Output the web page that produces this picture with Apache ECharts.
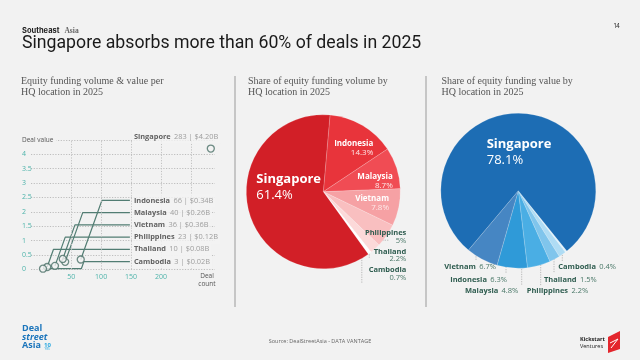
<!DOCTYPE html>
<html><head><meta charset="utf-8">
<script src="https://cdn.jsdelivr.net/npm/echarts@6/dist/echarts.min.js"></script>
<style>html,body{margin:0;padding:0;background:#f2f2f2;}#c{width:640px;height:360px;}</style>
</head><body><div id="c"></div>
<script>
// ---------- data ----------
const countries   = ['Singapore','Indonesia','Malaysia','Vietnam','Philippines','Thailand','Cambodia'];
const dealCounts  = [283, 66, 40, 36, 23, 10, 3];
const dealValues  = [4.20, 0.34, 0.26, 0.36, 0.12, 0.08, 0.02];
const volumeShare = [61.4, 14.3, 8.7, 7.8, 5, 2.2, 0.7];
const valueShare  = [78.1, 6.3, 4.8, 6.7, 2.2, 1.5, 0.4];
const xTickLabels = [50, 100, 150, 200];
const xGridLines  = [50, 100, 150, 200, 250];
const yTickLabels = [0, 0.5, 1, 1.5, 2, 2.5, 3, 3.5, 4];
const volumeOrder = ['Indonesia','Malaysia','Vietnam','Philippines','Thailand','Cambodia','Singapore'];
const valueOrder  = ['Cambodia','Thailand','Philippines','Malaysia','Indonesia','Vietnam','Singapore'];

// ---------- styles ----------
const BG = '#f2f2f2';
const SANS = "'Open Sans', sans-serif";
const SERIF = "'Liberation Serif', serif";
const TEAL = '#4db3aa';
const GREEN = '#2e5c4f';
const volColors = {Singapore:'#d21f27',Indonesia:'#e8343b',Malaysia:'#f04c54',Vietnam:'#f6a1a4',Philippines:'#f9bfc0',Thailand:'#fcd9d9',Cambodia:'#ffffff'};
const valColors = {Singapore:'#1d6db4',Vietnam:'#4686c3',Indonesia:'#2f9ad8',Malaysia:'#4aaee4',Philippines:'#80c5ec',Thailand:'#afdcf4',Cambodia:'#e2f2fb'};

const chart = echarts.init(document.getElementById('c'));

// ---------- left chart: leader lines & labels ----------
const LABEL_X = 148;
const small = countries.map((c, i) => i).filter(i => i > 0).sort((a, b) => dealCounts[a] - dealCounts[b]);
const levels = {};
small.forEach((idx, r) => { levels[idx] = 0.27 + r * 0.425; });
levels[0] = 4.61;
const leaderSeries = small.map((idx, r) => {
  const lvl = levels[idx], x0 = dealCounts[idx], y0 = dealValues[idx];
  const pts = [[x0, y0]];
  let bx = x0;
  if (r === 0) { bx = dealCounts[small[small.length - 1]] + 1; pts.push([bx, y0]); }
  pts.push([bx + (lvl - y0) * 17.15, lvl]);
  pts.push([LABEL_X, lvl]);
  return { type: 'line', xAxisIndex: 0, yAxisIndex: 0, data: pts, symbol: 'none', silent: true,
    lineStyle: { color: '#527d73', width: 1.2 }, z: 3 };
});
const labelData = [0].concat(small).map(idx => [LABEL_X, levels[idx], idx]);

// ---------- pie label layout (relative to centre) ----------
const VC = [323.3, 191.7], PC = [518.3, 190.7];
const volLab = {
  Singapore:  { dx: -67,  dy: -4,    align: 'left' },
  Indonesia:  { dx: 50,   dy: -43.5, align: 'right' },
  Malaysia:   { dx: 69.5, dy: -10.5, align: 'right' },
  Vietnam:    { dx: 65.7, dy: 11.6,  align: 'right' },
  Philippines:{ dx: 83,   dy: 45,    align: 'right', line: [[47, 48.5], [65, 48.5]] },
  Thailand:   { dx: 83,   dy: 63.6,  align: 'right', line: [[46, 53], [46, 66]] },
  Cambodia:   { dx: 83,   dy: 82.1,  align: 'right', line: [[38.5, 61], [38.5, 91]] }
};
const valLab = {
  Singapore:  { dx: -31.6, dy: -38.5, align: 'left' },
  Vietnam:    { dx: -22.3, dy: 76.6,  align: 'right', line: [[-42.3, 56], [-42.3, 70]] },
  Indonesia:  { dx: -11.3, dy: 89.3,  align: 'right', line: [[-12.3, 64], [-12.3, 83]] },
  Malaysia:   { dx: 0,     dy: 100,   align: 'right', line: [[3.4, 64], [3.4, 95]] },
  Philippines:{ dx: 8.4,   dy: 100,   align: 'left',  line: [[22.4, 62], [22.4, 95]] },
  Thailand:   { dx: 25.7,  dy: 89.3,  align: 'left',  line: [[35.7, 61], [35.7, 82]] },
  Cambodia:   { dx: 40,    dy: 76.6,  align: 'left',  line: [[44, 57], [44, 71]] }
};
function layoutFor(order, table, c) {
  return function (p) {
    const t = table[order[p.dataIndex]];
    const out = { x: c[0] + t.dx, y: c[1] + t.dy, align: t.align, verticalAlign: 'middle', hideOverlap: false };
    if (t.line) {
      const a = [c[0] + t.line[0][0], c[1] + t.line[0][1]], b = [c[0] + t.line[1][0], c[1] + t.line[1][1]];
      out.labelLinePoints = [a, b, b];
    }
    return out;
  };
}
const richBigWhite = { n: { fontFamily: SANS, fontWeight: 'bold', fontSize: 13, color: '#fff', lineHeight: 16 },
                       p: { fontFamily: SANS, fontSize: 13, color: '#fff', lineHeight: 16 } };
const richWhite = { n: { fontFamily: SANS, fontWeight: 'bold', fontSize: 8, color: '#fff', lineHeight: 8.5 },
                    p: { fontFamily: SANS, fontSize: 8, color: '#fde8e8', lineHeight: 8.5 } };
const richGreen = { n: { fontFamily: SANS, fontWeight: 'bold', fontSize: 7.5, color: GREEN, lineHeight: 7.8 },
                    p: { fontFamily: SANS, fontSize: 7.5, color: '#4a7868', lineHeight: 7.8 } };
const dotted = { color: '#a9a9a9', width: 0.8, type: [1.2, 1.2] };

const volData = volumeOrder.map(name => {
  const i = countries.indexOf(name);
  const inside = ['Singapore','Indonesia','Malaysia','Vietnam'].includes(name);
  return { name, value: volumeShare[i], itemStyle: { color: volColors[name] },
    label: { rich: name === 'Singapore' ? richBigWhite : (inside ? richWhite : richGreen),
             formatter: '{n|{b}}\n{p|{c}%}' },
    labelLine: { show: !inside, lineStyle: dotted } };
});
const valData = valueOrder.map(name => {
  const i = countries.indexOf(name);
  const big = name === 'Singapore';
  return { name, value: valueShare[i], itemStyle: { color: valColors[name] },
    label: { rich: big ? richBigWhite : richGreen, formatter: big ? '{n|{b}}\n{p|{c}%}' : '{n|{b}} {p|{c}%}' },
    labelLine: { show: !big, lineStyle: dotted } };
});

const titleRows = [
  { text: '{a|Southeast} {b|Asia}', left: 22, top: 22, padding: 0, textStyle: { rich: {
      a: { fontFamily: 'Inter', fontSize: 7.5, color: '#222' },
      b: { fontFamily: SERIF, fontSize: 7.5, color: '#666' } } } },
  { text: '14', right: 20, top: 23, padding: 0, textStyle: { fontFamily: 'Inter', fontSize: 6, color: '#333', fontWeight: 'normal' } },
  { text: 'Singapore absorbs more than 60% of deals in 2025', left: 22, top: 35, padding: 0,
    textStyle: { fontFamily: 'Roboto', fontSize: 17.7, color: '#1a1a1a', fontWeight: 'normal' } },
  { text: 'Equity funding volume & value per\nHQ location in 2025', left: 21, top: 76, padding: 0,
    textStyle: { fontFamily: SERIF, fontSize: 10, lineHeight: 11, color: '#555', fontWeight: 'normal' } },
  { text: 'Share of equity funding volume by\nHQ location in 2025', left: 248, top: 76, padding: 0,
    textStyle: { fontFamily: SERIF, fontSize: 10, lineHeight: 11, color: '#555', fontWeight: 'normal' } },
  { text: 'Share of equity funding value by\nHQ location in 2025', left: 441.5, top: 76, padding: 0,
    textStyle: { fontFamily: SERIF, fontSize: 10, lineHeight: 11, color: '#555', fontWeight: 'normal' } },
  { text: 'Source: DealStreetAsia - DATA VANTAGE', left: 'center', top: 338, padding: 0,
    textStyle: { fontFamily: SANS, fontSize: 5.5, color: '#666', fontWeight: 'normal' } }
];

const option = {
  backgroundColor: BG,
  animation: false,
  title: titleRows,
  grid: { left: 31, right: 425, top: 139.9, bottom: 90.7 },
  xAxis: {
    type: 'value', min: -17, max: 290,
    axisLine: { show: false }, axisTick: { show: false }, splitLine: { show: false },
    axisLabel: { customValues: xTickLabels, color: TEAL, fontSize: 7, fontFamily: SANS, margin: 4 },
    name: 'Deal\ncount', nameLocation: 'end', nameGap: -8,
    nameTextStyle: { align: 'center', verticalAlign: 'top', color: '#555', fontSize: 6.5, fontFamily: SANS, lineHeight: 8, padding: [3, 0, 0, 0] }
  },
  yAxis: {
    type: 'value', min: 0, max: 4.5, interval: 0.5,
    axisLine: { show: false }, axisTick: { show: false },
    splitLine: { lineStyle: { type: [1.2, 1.5], color: '#bdbdbd', width: 1 } },
    axisLabel: {
      align: 'left', margin: 9, color: TEAL, fontSize: 7, fontFamily: SANS,
      formatter: v => (yTickLabels.includes(v) ? String(v) : '{d|Deal value}'),
      rich: { d: { color: '#555', fontSize: 6.5, fontFamily: SANS, backgroundColor: BG, padding: [0, 3, 0, 0] } }
    }
  },
  series: [
    {
      type: 'scatter', name: 'points', data: dealCounts.map((c, i) => [c, dealValues[i]]),
      symbol: 'circle', symbolSize: 7, clip: false, z: 5,
      itemStyle: { color: BG, borderColor: '#4b7168', borderWidth: 1.3 },
      markLine: { silent: true, symbol: 'none', label: { show: false },
        lineStyle: { type: [1.2, 1.5], color: '#c2c2c2', width: 1 },
        data: xGridLines.map(v => ({ xAxis: v })) }
    },
    ...leaderSeries,
    {
      type: 'scatter', name: 'labels', data: labelData, symbolSize: 0, clip: false, silent: true, z: 6,
      label: {
        show: true, position: 'right', distance: 2,
        backgroundColor: BG, padding: [1, 2],
        formatter: p => {
          const i = p.data[2];
          return '{b|' + countries[i] + '} {r|' + dealCounts[i] + ' | $' + dealValues[i].toFixed(2) + 'B}';
        },
        rich: { b: { fontFamily: SANS, fontWeight: 'bold', fontSize: 7.4, color: '#3b3b3b' },
                r: { fontFamily: SANS, fontSize: 7.4, color: '#888' } }
      }
    },
    {
      type: 'pie', name: 'volume', center: VC, radius: 77, startAngle: 85, clockwise: true,
      avoidLabelOverlap: false, data: volData,
      itemStyle: { borderColor: 'rgba(255,255,255,0.35)', borderWidth: 0.5 },
      label: { show: true, position: 'outside' },
      labelLayout: layoutFor(volumeOrder, volLab, VC)
    },
    {
      type: 'pie', name: 'value', center: PC, radius: 77.5, startAngle: -51.2, clockwise: true,
      avoidLabelOverlap: false, data: valData,
      itemStyle: { borderColor: 'rgba(255,255,255,0.35)', borderWidth: 0.5 },
      label: { show: true, position: 'outside' },
      labelLayout: layoutFor(valueOrder, valLab, PC)
    }
  ],
  graphic: [
    { type: 'line', shape: { x1: 235, y1: 76, x2: 235, y2: 307 }, style: { stroke: '#9a9a9a', lineWidth: 1 } },
    { type: 'line', shape: { x1: 426, y1: 76, x2: 426, y2: 307 }, style: { stroke: '#9a9a9a', lineWidth: 1 } },
    { type: 'text', left: 22, top: 324, style: { text: 'Deal', font: "bold 9px 'Open Sans'", fill: '#1b75bc' } },
    { type: 'text', left: 22, top: 332.5, style: { text: 'street', font: "italic bold 9px 'Open Sans'", fill: '#1b75bc' } },
    { type: 'text', left: 22, top: 341, style: { text: 'Asia', font: "bold 9px 'Open Sans'", fill: '#1b75bc' } },
    { type: 'text', left: 44, top: 342, style: { text: '10', font: "bold 6px 'Open Sans'", fill: '#29a8e0' } },
    { type: 'text', left: 44.5, top: 348, style: { text: 'YRS', font: "3px 'Open Sans'", fill: '#29a8e0' } },
    { type: 'text', left: 580, top: 336, style: { text: 'Kickstart', font: "bold 5.5px 'Open Sans'", fill: '#222' } },
    { type: 'text', left: 580, top: 343, style: { text: 'Ventures', font: "5.5px 'Open Sans'", fill: '#222' } },
    { type: 'polygon', shape: { points: [[608, 337], [620, 331], [620, 349], [608, 353]] }, style: { fill: '#e3262d' } },
    { type: 'polyline', shape: { points: [[610, 343], [618, 339], [611, 348]] }, style: { stroke: '#fff', lineWidth: 1, fill: null } }
  ]
};
chart.setOption(option);
</script></body></html>
